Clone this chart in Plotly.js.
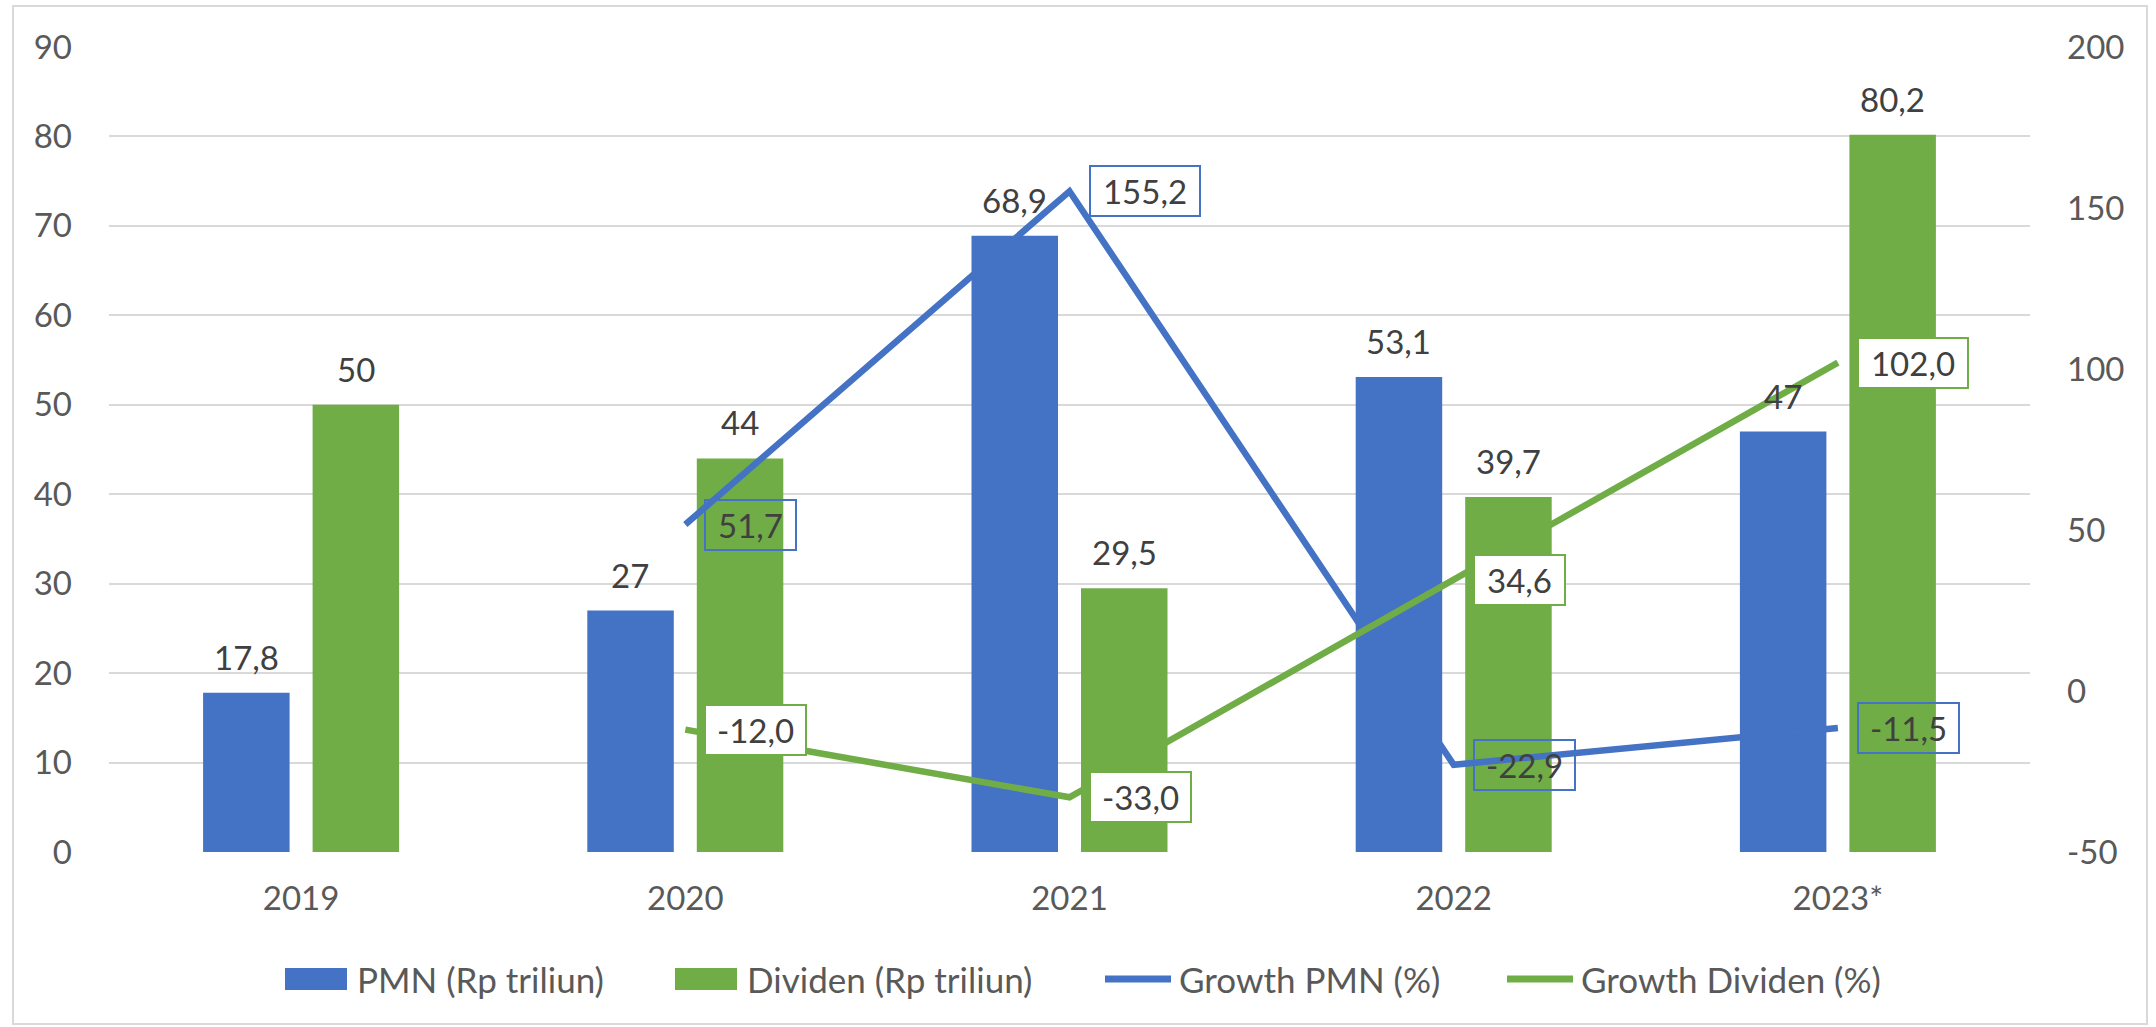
<!DOCTYPE html>
<html>
<head>
<meta charset="utf-8">
<script src="https://cdn.plot.ly/plotly-3.0.1.min.js"></script>
<style>html,body{margin:0;padding:0;background:#fff;}#chart{width:2156px;height:1027px;}</style>
</head>
<body>
<div id="chart"></div>
<script>
const categories = ['2019', '2020', '2021', '2022', '2023*'];
const pmnValues = [17.8, 27, 68.9, 53.1, 47];
const dividenValues = [50, 44, 29.5, 39.7, 80.2];
const growthPmn = [null, 51.7, 155.2, -22.9, -11.5];
const growthDividen = [null, -12.0, -33.0, 34.6, 102.0];
const leftTicks = [0, 10, 20, 30, 40, 50, 60, 70, 80, 90];
const rightTicks = [-50, 0, 50, 100, 150, 200];
const seriesNames = ['PMN (Rp triliun)', 'Dividen (Rp triliun)', 'Growth PMN (%)', 'Growth Dividen (%)'];

const BLUE = '#4472C4', GREEN = '#70AD47';
const FONT = 'Lato, "Open Sans", sans-serif';
const W = 2156, H = 1027;
const M = {l: 109, r: 126, t: 47, b: 175};
const plotW = W - M.l - M.r, plotH = H - M.t - M.b;
const px = x => (x - M.l) / plotW;
const py = y => (H - M.b - y) / plotH;
const fmtBar = v => String(v).replace('.', ',');
const fmtPct = v => v.toFixed(1).replace('.', ',');

const traces = [
  {type: 'bar', name: seriesNames[0], x: categories, y: pmnValues, marker: {color: BLUE}, hoverinfo: 'none'},
  {type: 'bar', name: seriesNames[1], x: categories, y: dividenValues, marker: {color: GREEN}, hoverinfo: 'none'},
  {type: 'scatter', mode: 'lines', name: seriesNames[2], x: categories, y: growthPmn, yaxis: 'y2',
   line: {color: BLUE, width: 6.5}, connectgaps: false, hoverinfo: 'none'},
  {type: 'scatter', mode: 'lines', name: seriesNames[3], x: categories, y: growthDividen, yaxis: 'y2',
   line: {color: GREEN, width: 6.5}, connectgaps: false, hoverinfo: 'none'}
];

const annotations = [];
const labelFont = {family: FONT, size: 33, color: '#404040'};
categories.forEach((c, i) => {
  annotations.push({x: i, y: pmnValues[i], xref: 'x', yref: 'y', text: fmtBar(pmnValues[i]),
    showarrow: false, xanchor: 'center', yanchor: 'bottom', xshift: -55, yshift: 14, font: labelFont});
  annotations.push({x: i, y: dividenValues[i], xref: 'x', yref: 'y', text: fmtBar(dividenValues[i]),
    showarrow: false, xanchor: 'center', yanchor: 'bottom', xshift: 55, yshift: 14, font: labelFont});
});
function boxWidth(s) {
  let w = 14;
  for (const ch of s) w += /[0-9]/.test(ch) ? 19 : 10;
  return w;
}
function addLineLabels(vals, color, fill) {
  categories.forEach((c, i) => {
    if (vals[i] === null) return;
    const t = fmtPct(vals[i]);
    annotations.push({x: i, y: vals[i], xref: 'x', yref: 'y2', text: t, showarrow: false,
      xanchor: 'left', yanchor: 'middle', xshift: 19, width: boxWidth(t), align: 'center',
      bordercolor: color, borderwidth: 2, borderpad: 4, bgcolor: fill, font: labelFont});
  });
}
addLineLabels(growthPmn, BLUE, 'rgba(0,0,0,0)');
addLineLabels(growthDividen, GREEN, '#FFFFFF');

// Legend (drawn as shapes + text to match the reference's large legend keys)
const legendFont = {family: FONT, size: 35, color: '#595959'};
const legendY = 979;
const legendItems = [
  {kind: 'box', color: BLUE, x0: 285, x1: 347, tx: 355, name: seriesNames[0]},
  {kind: 'box', color: GREEN, x0: 675, x1: 737, tx: 745, name: seriesNames[1]},
  {kind: 'line', color: BLUE, x0: 1105, x1: 1171, tx: 1177, name: seriesNames[2]},
  {kind: 'line', color: GREEN, x0: 1507, x1: 1573, tx: 1579, name: seriesNames[3]}
];
const shapes = [{type: 'rect', xref: 'paper', yref: 'paper', x0: px(13), x1: px(2147), y0: py(1024), y1: py(6),
  line: {color: '#D9D9D9', width: 2}, fillcolor: 'rgba(0,0,0,0)', layer: 'below'}];
legendItems.forEach(it => {
  if (it.kind === 'box') {
    shapes.push({type: 'rect', xref: 'paper', yref: 'paper', x0: px(it.x0), x1: px(it.x1),
      y0: py(legendY + 11), y1: py(legendY - 11), line: {width: 0}, fillcolor: it.color});
  } else {
    shapes.push({type: 'line', xref: 'paper', yref: 'paper', x0: px(it.x0), x1: px(it.x1),
      y0: py(legendY), y1: py(legendY), line: {color: it.color, width: 7}});
  }
  annotations.push({xref: 'paper', yref: 'paper', x: px(it.tx), y: py(legendY), xanchor: 'left',
    yanchor: 'middle', text: it.name, showarrow: false, font: legendFont});
});

const layout = {
  width: W, height: H,
  margin: {l: M.l, r: M.r, t: M.t, b: M.b, pad: 0},
  paper_bgcolor: '#FFFFFF', plot_bgcolor: '#FFFFFF',
  font: {family: FONT, size: 33, color: '#595959'},
  barmode: 'group', bargap: 0.43, bargroupgap: 0.21,
  showlegend: false,
  xaxis: {type: 'category', range: [-0.5, 4.5], autorange: false, showgrid: false, zeroline: false,
    showline: false, ticks: '', ticklabelstandoff: 24, tickfont: {family: FONT, size: 33, color: '#595959'}},
  yaxis: {range: [0, 90], autorange: false, tickvals: leftTicks, ticktext: leftTicks.map(String), showgrid: true,
    gridcolor: '#D9D9D9', gridwidth: 2, zeroline: false, showline: false, ticks: '',
    ticklabelstandoff: 36, tickfont: {family: FONT, size: 33, color: '#595959'}},
  yaxis2: {range: [-50, 200], autorange: false, overlaying: 'y', side: 'right', tickvals: rightTicks,
    ticktext: rightTicks.map(String), showgrid: false, zeroline: false, showline: false, ticks: '',
    ticklabelstandoff: 36, tickfont: {family: FONT, size: 33, color: '#595959'}},
  annotations: annotations,
  shapes: shapes
};

Plotly.newPlot('chart', traces, layout, {staticPlot: true, displayModeBar: false});
</script>
</body>
</html>
